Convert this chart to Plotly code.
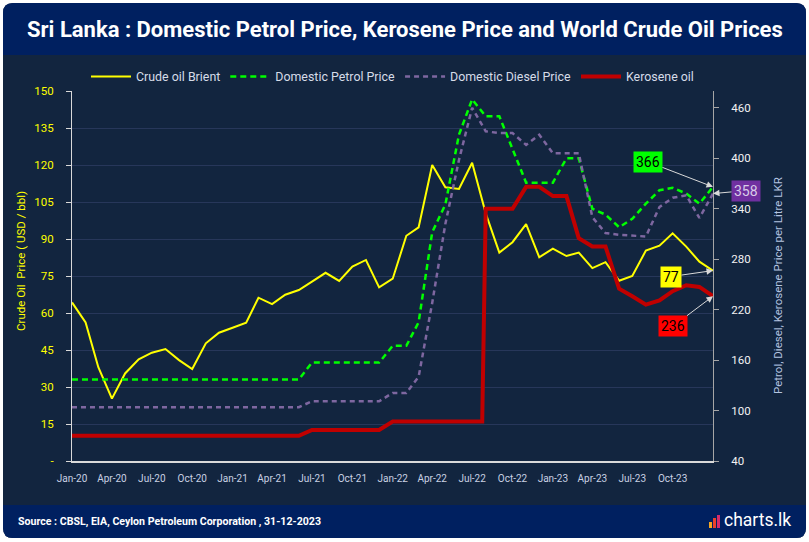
import plotly.graph_objects as go
import pandas as pd

# ---------------- data ----------------
months = pd.date_range("2020-01-01", "2024-01-01", freq="MS")  # 49 monthly points

crude_brent = [
    64.3, 56.2, 38.0, 25.3, 35.5, 41.2, 43.9, 45.4, 40.9, 37.3, 47.7, 52.0,
    54.0, 56.1, 66.2, 63.6, 67.4, 69.3, 72.7, 76.3, 73.0, 78.8, 81.5, 70.4,
    73.9, 91.3, 94.7, 120.0, 111.0, 110.3, 120.9, 100.4, 84.5, 88.7, 96.0, 82.6,
    86.1, 83.1, 84.5, 78.2, 80.6, 73.1, 75.0, 85.3, 87.3, 92.3, 86.9, 80.8,
    77.2,
]

petrol_price = (
    [137] * 18 + [157] * 6 +
    [177, 177, 205, 312, 345, 428, 470, 450, 450, 410, 371, 371,
     371, 400, 400, 340, 333, 318, 328, 346, 362, 365, 358, 346,
     366]
)

diesel_price = (
    [104] * 18 + [111] * 6 +
    [121, 121, 140, 228, 322, 398, 460, 432, 430, 430, 416, 428,
     406, 406, 406, 330, 311, 309, 308, 307, 342, 353, 356, 329,
     358]
)

kerosene_dates = list(months[:31]) + [pd.Timestamp("2022-07-24")] + list(months[31:])
kerosene_price = (
    [70] * 18 + [77] * 6 + [87] * 7 + [87] +
    [340, 340, 340, 366, 366, 355, 355, 305, 295, 295, 245, 236,
     226, 231, 242, 249, 247, 236]
)

left_ticks = [0, 15, 30, 45, 60, 75, 90, 105, 120, 135, 150]
left_tick_text = ["-", "15", "30", "45", "60", "75", "90", "105", "120", "135", "150"]
right_ticks = [40, 100, 160, 220, 280, 340, 400, 460]
x_ticks = list(months[:48:3])

series_names = ["Crude oil Brient", "Domestic Petrol Price", "Domestic Diesel Price", "Kerosene oil"]

title_text = "Sri Lanka : Domestic Petrol Price, Kerosene Price and World Crude Oil Prices"
source_text = "Source : CBSL, EIA, Ceylon Petroleum Corporation , 31-12-2023"

# ---------------- styling ----------------
FONT = "Roboto, Lato, sans-serif"
W, H = 809, 542
L, R, T, B = 72, 713, 91, 461  # plot area pixel bounds


def px(x):
    return (x - L) / (R - L)


def py(y):
    return (B - y) / (B - T)


def rrect(x0, y0, x1, y1, r_top, r_bot):
    pts = [
        ("M", (x0 + r_top, y0)),
        ("L", (x1 - r_top, y0)),
        ("Q", (x1, y0), (x1, y0 + r_top)),
        ("L", (x1, y1 - r_bot)),
        ("Q", (x1, y1), (x1 - r_bot, y1)),
        ("L", (x0 + r_bot, y1)),
        ("Q", (x0, y1), (x0, y1 - r_bot)),
        ("L", (x0, y0 + r_top)),
        ("Q", (x0, y0), (x0 + r_top, y0)),
    ]
    s = ""
    for p in pts:
        coords = " ".join(f"{px(a):.5f},{py(b):.5f}" for a, b in p[1:])
        s += f"{p[0]} {coords} "
    return s + "Z"


fig = go.Figure()

fig.add_trace(go.Scatter(x=months, y=crude_brent, name=series_names[0], mode="lines",
                         line=dict(color="#FFFF00", width=2), yaxis="y"))
fig.add_trace(go.Scatter(x=months, y=petrol_price, name=series_names[1], mode="lines",
                         line=dict(color="#00FF00", width=2.5, dash="6px,4px"), yaxis="y2"))
fig.add_trace(go.Scatter(x=months, y=diesel_price, name=series_names[2], mode="lines",
                         line=dict(color="#7E67A0", width=2.5, dash="5px,4px"), yaxis="y2"))
fig.add_trace(go.Scatter(x=kerosene_dates, y=kerosene_price, name=series_names[3], mode="lines",
                         line=dict(color="#C00000", width=4), yaxis="y2"))

shapes = [
    dict(type="path", xref="paper", yref="paper", path=rrect(3, 3, 806, 538, 10, 10),
         fillcolor="#12253F", line=dict(width=0), layer="below"),
    dict(type="path", xref="paper", yref="paper", path=rrect(3, 3, 806, 55, 10, 0),
         fillcolor="#002060", line=dict(width=0), layer="below"),
    dict(type="path", xref="paper", yref="paper", path=rrect(3, 505, 806, 538, 0, 10),
         fillcolor="#002060", line=dict(width=0), layer="below"),
    # charts.lk logo icon
    dict(type="rect", xref="paper", yref="paper", x0=px(709), x1=px(712), y0=py(528), y1=py(522),
         fillcolor="#F5A623", line=dict(width=0)),
    dict(type="rect", xref="paper", yref="paper", x0=px(713), x1=px(716), y0=py(528), y1=py(518),
         fillcolor="#E8412C", line=dict(width=0)),
    dict(type="rect", xref="paper", yref="paper", x0=px(717), x1=px(720), y0=py(528), y1=py(515),
         fillcolor="#D62A6B", line=dict(width=0)),
]

annotations = [
    dict(text=f"<b>{title_text}</b>", xref="paper", yref="paper", x=px(404.5), y=py(30),
         showarrow=False, font=dict(family=FONT, size=22, color="#FFFFFF"),
         xanchor="center", yanchor="middle"),
    dict(text="Crude Oil  Price ( USD / bbl)", xref="paper", yref="paper", x=px(21), y=py(261),
         textangle=-90, showarrow=False, font=dict(family=FONT, size=11.5, color="#FFFF00"),
         xanchor="center", yanchor="middle"),
    dict(text="Petrol, Diesel, Kerosene Price per Litre LKR", xref="paper", yref="paper",
         x=px(778), y=py(286), textangle=-90, showarrow=False,
         font=dict(family=FONT, size=11.5, color="#B4C4E0"), xanchor="center", yanchor="middle"),
    dict(text=f"<b>{source_text}</b>", xref="paper", yref="paper", x=px(16), y=py(521),
         showarrow=False, font=dict(family=FONT, size=10.6, color="#FFFFFF"),
         xanchor="left", yanchor="middle"),
    dict(text="charts.lk", xref="paper", yref="paper", x=px(722), y=py(520),
         showarrow=False, font=dict(family=FONT, size=17.5, color="#FFFFFF"),
         xanchor="left", yanchor="middle"),
    # value call-outs
    dict(text=str(petrol_price[-1]), x=months[-1], y=petrol_price[-1], xref="x", yref="y2",
         ax=-65, ay=-25, showarrow=True, arrowhead=2, arrowsize=1.3, arrowwidth=1,
         arrowcolor="#D9D9D9", bgcolor="#00FF00", borderpad=2,
         font=dict(family=FONT, size=14, color="#000000")),
    dict(text=str(diesel_price[-1]), x=months[-1], y=diesel_price[-1], xref="x", yref="y2",
         ax=33, ay=-3, showarrow=True, arrowhead=2, arrowsize=1.3, arrowwidth=1,
         arrowcolor="#D9D9D9", bgcolor="#7030A0", borderpad=2,
         font=dict(family=FONT, size=14, color="#D9CCE8")),
    dict(text=str(round(crude_brent[-1])), x=months[-1], y=crude_brent[-1], xref="x", yref="y",
         ax=-42, ay=6, showarrow=True, arrowhead=2, arrowsize=1.3, arrowwidth=1,
         arrowcolor="#D9D9D9", bgcolor="#FFFF00", borderpad=2,
         font=dict(family=FONT, size=14, color="#000000")),
    dict(text=str(kerosene_price[-1]), x=months[-1], y=kerosene_price[-1], xref="x", yref="y2",
         ax=-40, ay=30, showarrow=True, arrowhead=2, arrowsize=1.3, arrowwidth=1,
         arrowcolor="#D9D9D9", bgcolor="#FF0000", borderpad=2,
         font=dict(family=FONT, size=14, color="#000000")),
]

fig.update_layout(
    width=W, height=H, autosize=False,
    margin=dict(l=L, r=W - R, t=T, b=H - B, pad=0),
    paper_bgcolor="#FFFFFF",
    plot_bgcolor="rgba(0,0,0,0)",
    font=dict(family=FONT, color="#D6DCE8"),
    showlegend=True,
    legend=dict(orientation="h", x=px(86), y=py(77), xanchor="left", yanchor="middle",
                bgcolor="rgba(0,0,0,0)", font=dict(family=FONT, size=12.4, color="#D6DCE8"),
                traceorder="normal", itemwidth=40),
    xaxis=dict(type="date", range=[months[0], months[-1]], tickvals=x_ticks, tickformat="%b-%y",
               showgrid=False, zeroline=False, showline=True, linecolor="#D9D9D9", linewidth=1.5,
               ticks="", ticklabelstandoff=7,
               tickfont=dict(family=FONT, size=10, color="#C9D1E3")),
    yaxis=dict(range=[0, 150], tickvals=left_ticks, ticktext=left_tick_text,
               showgrid=True, gridcolor="#27375A", gridwidth=1, zeroline=False,
               showline=True, linecolor="#D9D9D9", linewidth=1, ticks="outside", ticklen=5,
               tickcolor="#D9D9D9", ticklabelstandoff=10,
               tickfont=dict(family=FONT, size=11.5, color="#FFFF00")),
    yaxis2=dict(range=[40, 480], tickvals=right_ticks, overlaying="y", side="right",
                showgrid=False, zeroline=False, showline=True, linecolor="#A6A6A6", linewidth=1,
                ticks="outside", ticklen=5, tickcolor="#A6A6A6", ticklabelstandoff=10,
                tickfont=dict(family=FONT, size=11.5, color="#F2F2F2")),
    shapes=shapes,
    annotations=annotations,
)

fig.write_html("out.html", config={"displayModeBar": False},
               post_script="document.body.style.margin='0px';")
